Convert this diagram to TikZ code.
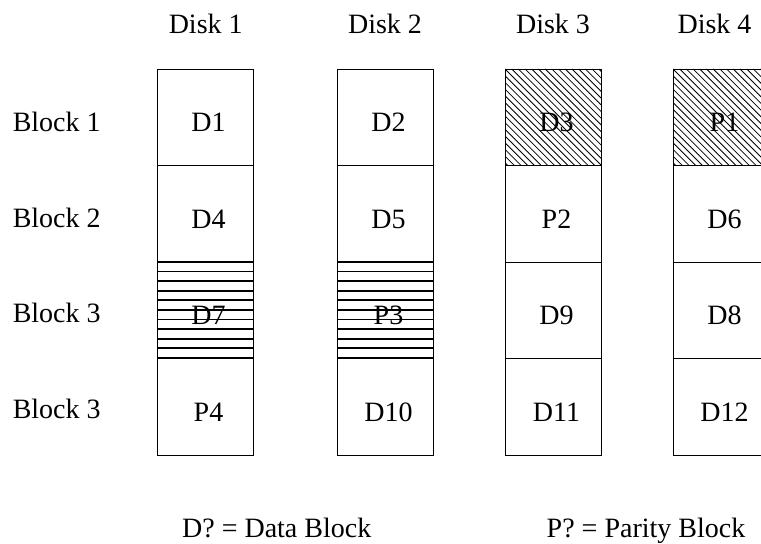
\documentclass[tikz,border=0pt]{standalone}
\usepackage{fontspec}
\setmainfont{Liberation Serif}
\begin{document}
\begin{tikzpicture}[x=0.5pt,y=-0.5pt,
  cell/.style={draw=black,line width=0.5pt,minimum width=48pt,minimum height=48.25pt,inner sep=0pt},
  lbl/.style={font=\fontsize{14}{16}\selectfont,anchor=base,inner sep=0pt},
  hline/.style={line width=0.9pt},
  dline/.style={line width=0.4pt}]
\useasboundingbox (0,0) rectangle (761,544);
\clip (0,0) rectangle (761,544);

% hatching: horizontal lines in block 3 of disks 1 and 2
\foreach \cx in {157,337}{
  \foreach \i in {0,...,10}{
    \draw[hline] (\cx,262+\i*9.6) -- (\cx+96,262+\i*9.6);
  }
}
% hatching: diagonal lines in block 1 of disks 3 and 4
\foreach \cx in {505,673}{
  \begin{scope}
    \clip (\cx,69) rectangle (\cx+96,166);
    \foreach \k in {-15,...,15}{
      \draw[dline] (\cx+\k*6.7,69) -- (\cx+\k*6.7+97,166);
    }
  \end{scope}
}

% cells
\foreach \cx/\dn in {157/1,337/2,505/3,673/4}{
  \foreach \r in {1,...,4}{
    \node[cell,anchor=north west] (c\dn\r) at (\cx,{69+(\r-1)*96.5}) {};
  }
}

% cell texts
\foreach \dn/\r/\t in {1/1/D1,2/1/D2,3/1/D3,4/1/P1,
                       1/2/D4,2/2/D5,3/2/P2,4/2/D6,
                       1/3/D7,2/3/P3,3/3/D9,4/3/D8,
                       1/4/P4,2/4/D10,3/4/D11,4/4/D12}{
  \node[lbl] (t\dn\r) at ([xshift=1.5pt,yshift=-7pt]c\dn\r.center) {\t};
}

% disk headings
\node[lbl] (h1) at (205.7,34) {Disk 1};
\node[lbl] (h2) at (385,34) {Disk 2};
\node[lbl] (h3) at (553,34) {Disk 3};
\node[lbl] (h4) at (714.5,34) {Disk 4};

% block labels
\node[lbl] (b1) at (56.7,131.5) {Block 1};
\node[lbl] (b2) at (56.7,227.5) {Block 2};
\node[lbl] (b3) at (56.7,322.5) {Block 3};
\node[lbl] (b4) at (56.7,418.5) {Block 3};

% legend
\node[lbl] (ld) at (276.7,538) {D? = Data Block};
\node[lbl] (lp) at (646,538) {P? = Parity Block};
\end{tikzpicture}
\end{document}
